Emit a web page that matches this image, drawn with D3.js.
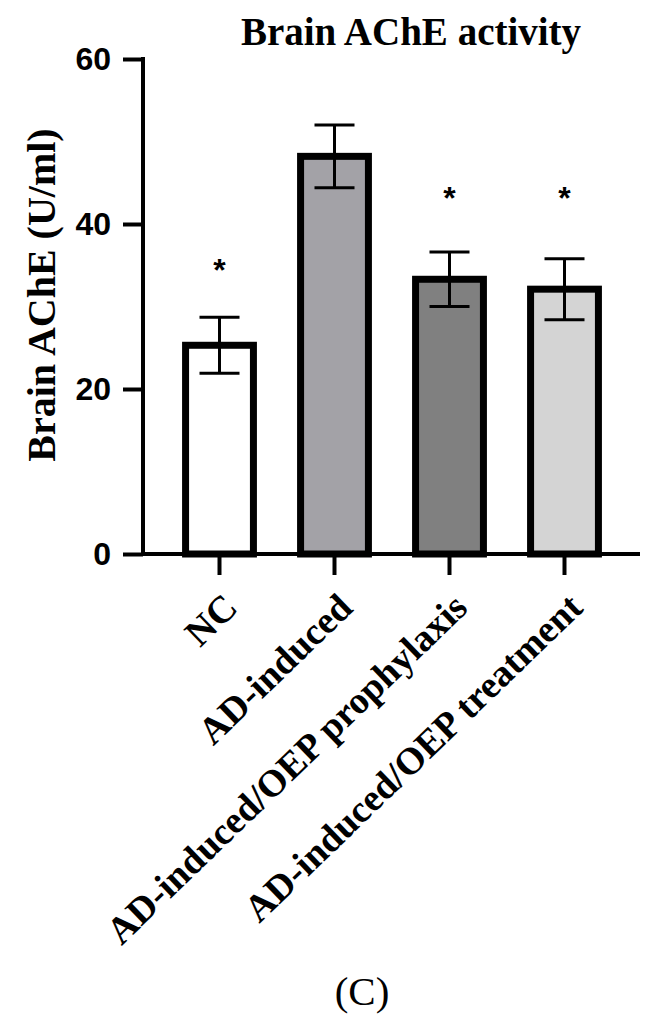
<!DOCTYPE html>
<html>
<head>
<meta charset="utf-8">
<script src="https://cdn.jsdelivr.net/npm/d3@7"></script>
<style>
  body { margin: 0; background: #fff; }
  svg { display: block; }
</style>
</head>
<body>
<svg id="chart" width="659" height="1025"></svg>
<script>
// Data
const groups = ["NC", "AD-induced", "AD-induced/OEP prophylaxis", "AD-induced/OEP treatment"];
const means = [25.3, 48.2, 33.3, 32.1];
const errs = [3.4, 3.8, 3.3, 3.7];
const sigMarks = ["*", "", "*", "*"];
const sigLevel = [35.3, null, 44.0, 44.0];
const fills = ["#ffffff", "#a3a2a7", "#808080", "#d4d4d4"];
const yTicks = [0, 20, 40, 60];

const svg = d3.select("#chart");

const x = d3.scaleBand()
    .domain(groups)
    .range([162, 622])
    .paddingInner(0.41)
    .paddingOuter(0.205);

const y = d3.scaleLinear()
    .domain([0, 60])
    .range([554, 59]);

// Bars
svg.selectAll("rect.bar")
    .data(groups)
    .enter()
    .append("rect")
    .attr("class", "bar")
    .attr("x", d => x(d))
    .attr("y", (d, i) => y(means[i]))
    .attr("width", x.bandwidth())
    .attr("height", (d, i) => y(0) - y(means[i]))
    .style("fill", (d, i) => fills[i])
    .style("stroke", "#000")
    .style("stroke-width", 7);

// Error bars
const eb = svg.selectAll("g.err")
    .data(groups)
    .enter()
    .append("g")
    .attr("class", "err")
    .style("stroke", "#000")
    .style("stroke-width", 3);

eb.append("line")
    .attr("x1", d => x(d) + x.bandwidth() / 2)
    .attr("x2", d => x(d) + x.bandwidth() / 2)
    .attr("y1", (d, i) => y(means[i] - errs[i]))
    .attr("y2", (d, i) => y(means[i] + errs[i]));

[1, -1].forEach(s => {
    eb.append("line")
        .attr("x1", d => x(d) + x.bandwidth() / 2 - 20)
        .attr("x2", d => x(d) + x.bandwidth() / 2 + 20)
        .attr("y1", (d, i) => y(means[i] + s * errs[i]))
        .attr("y2", (d, i) => y(means[i] + s * errs[i]));
});

// Significance asterisks
svg.selectAll("text.sig")
    .data(groups.filter((d, i) => sigMarks[i]))
    .enter()
    .append("text")
    .attr("class", "sig")
    .attr("x", d => x(d) + x.bandwidth() / 2)
    .attr("y", d => y(sigLevel[groups.indexOf(d)]) + 18)
    .attr("text-anchor", "middle")
    .style("font-family", "'Liberation Sans', Arial, sans-serif")
    .style("font-weight", "bold")
    .style("font-size", "32px")
    .text(d => sigMarks[groups.indexOf(d)]);

// Y axis
const yAxis = svg.append("g")
    .attr("transform", "translate(143,0)")
    .call(d3.axisLeft(y).tickValues(yTicks).tickSize(20).tickPadding(12).tickSizeOuter(0));
yAxis.select(".domain").style("stroke-width", 4).attr("d", `M0,${y(60) - 2}V${y(0)}`);
yAxis.selectAll(".tick line").style("stroke-width", 4);
yAxis.selectAll(".tick text")
    .style("font-family", "'Liberation Sans', Arial, sans-serif")
    .style("font-weight", "bold")
    .style("font-size", "32px");

// X axis
const xAxis = svg.append("g")
    .attr("transform", `translate(0,${y(0)})`)
    .call(d3.axisBottom(x).tickSize(21).tickSizeOuter(0).tickFormat(""));
xAxis.select(".domain").style("stroke-width", 4).attr("d", "M141,0H640");
xAxis.selectAll(".tick line").style("stroke-width", 4);

// Rotated category labels
svg.selectAll("text.cat")
    .data(groups)
    .enter()
    .append("text")
    .attr("class", "cat")
    .attr("transform", d => `translate(${x(d) + x.bandwidth() / 2 + 20},610) rotate(-44)`)
    .attr("text-anchor", "end")
    .style("font-family", "'Liberation Serif', 'Times New Roman', serif")
    .style("font-weight", "bold")
    .style("font-size", "38px")
    .text(d => d);

// Y axis title
svg.append("text")
    .attr("transform", "translate(55,295) rotate(-90)")
    .attr("text-anchor", "middle")
    .style("font-family", "'Liberation Serif', 'Times New Roman', serif")
    .style("font-weight", "bold")
    .style("font-size", "40px")
    .text("Brain AChE (U/ml)");

// Chart title
svg.append("text")
    .attr("x", 411)
    .attr("y", 45)
    .attr("text-anchor", "middle")
    .style("font-family", "'Liberation Serif', 'Times New Roman', serif")
    .style("font-weight", "bold")
    .style("font-size", "39px")
    .text("Brain AChE activity");

// Panel letter
svg.append("text")
    .attr("x", 362)
    .attr("y", 1005)
    .attr("text-anchor", "middle")
    .style("font-family", "'Liberation Serif', 'Times New Roman', serif")
    .style("font-size", "41px")
    .text("(C)");
</script>
</body>
</html>
